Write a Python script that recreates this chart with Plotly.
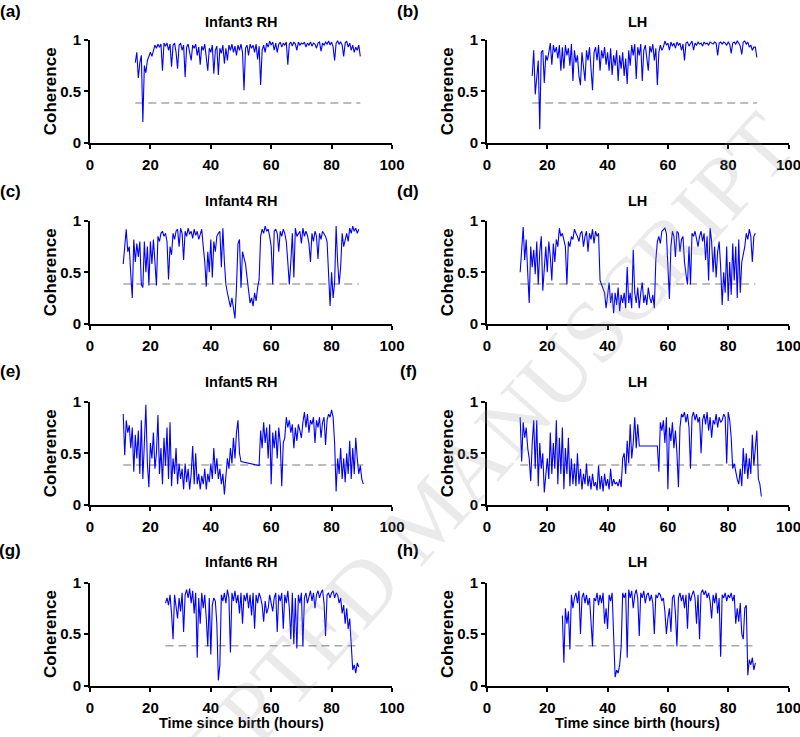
import numpy as np
import plotly.graph_objects as go

W, H = 800, 737
STEP = 0.5          # sampling interval of the coherence series (hours)
THRESHOLD = 0.385   # significance level (dashed line)

x_ticks = [0, 20, 40, 60, 80, 100]
y_ticks = [0, 0.5, 1]
y_tick_text = ["0", "0.5", "1"]

# ---------------- data ----------------
a_start = 15.0
a_vals = [0.78,0.88,0.63,0.78,0.85,0.2,0.75,0.68,0.8,0.85,
          0.88,0.84,0.9,0.95,0.92,0.96,0.93,0.96,0.7,0.97,
          0.94,0.97,0.9,0.96,0.74,0.95,0.97,0.88,0.72,0.95,
          0.97,0.9,0.95,0.64,0.93,0.96,0.88,0.8,0.95,0.92,
          0.96,0.85,0.93,0.76,0.94,0.9,0.96,0.85,0.7,0.92,
          0.88,0.95,0.67,0.9,0.94,0.66,0.92,0.87,0.95,0.77,
          0.92,0.8,0.95,0.9,0.96,0.88,0.94,0.85,0.95,0.9,
          0.96,0.88,0.51,0.92,0.95,0.85,0.96,0.92,0.95,0.88,
          0.96,0.81,0.94,0.56,0.9,0.95,0.88,0.97,0.93,0.99,
          0.95,0.98,0.9,0.97,0.88,0.96,0.98,0.93,0.97,0.95,
          0.98,0.76,0.96,0.98,0.94,0.98,0.96,0.9,0.98,0.95,
          0.97,0.96,0.98,0.93,0.97,0.95,0.98,0.94,0.97,0.96,
          0.92,0.97,0.98,0.89,0.97,0.95,0.98,0.96,0.99,0.95,
          0.98,0.93,0.8,0.97,0.99,0.96,0.98,0.95,0.84,0.97,
          0.99,0.93,0.97,0.9,0.95,0.88,0.93,0.9,0.95,0.84]

b_start = 15.0
b_vals = [0.65,0.9,0.47,0.62,0.8,0.13,0.88,0.9,0.58,0.85,
          0.8,0.88,0.97,0.76,0.95,0.88,0.93,0.82,0.95,0.7,
          0.93,0.72,0.95,0.85,0.92,0.75,0.96,0.6,0.9,0.78,
          0.85,0.65,0.56,0.88,0.7,0.6,0.9,0.8,0.93,0.75,
          0.51,0.88,0.93,0.8,0.95,0.7,0.9,0.82,0.93,0.76,
          0.88,0.7,0.92,0.66,0.85,0.75,0.9,0.6,0.85,0.72,
          0.88,0.65,0.82,0.57,0.9,0.75,0.95,0.85,0.96,0.62,
          0.93,0.85,0.96,0.6,0.9,0.95,0.82,0.7,0.94,0.88,
          0.96,0.8,0.92,0.56,0.88,0.95,0.9,0.93,0.99,0.95,
          0.97,0.9,0.98,0.94,0.97,0.92,0.98,0.95,0.97,0.9,
          0.96,0.8,0.97,0.98,0.94,0.97,0.99,0.9,0.97,0.95,
          0.98,0.96,0.97,0.94,0.98,0.96,0.97,0.95,0.98,0.97,
          0.96,0.98,0.97,0.85,0.97,0.98,0.96,0.98,0.97,0.95,
          0.98,0.96,0.87,0.97,0.98,0.96,0.99,0.97,0.94,0.86,
          0.98,0.99,0.96,0.98,0.93,0.95,0.9,0.93,0.93,0.83]

c_start = 11.0
c_vals = [0.58,0.8,0.92,0.7,0.75,0.48,0.25,0.82,0.6,0.78,
          0.65,0.8,0.38,0.35,0.8,0.5,0.75,0.37,0.8,0.58,
          0.82,0.6,0.37,0.85,0.8,0.88,0.9,0.85,0.88,0.8,
          0.43,0.75,0.67,0.88,0.82,0.9,0.92,0.75,0.93,0.88,
          0.62,0.9,0.85,0.93,0.87,0.9,0.83,0.92,0.86,0.9,
          0.82,0.87,0.92,0.75,0.6,0.36,0.7,0.5,0.82,0.45,
          0.8,0.7,0.85,0.88,0.9,0.55,0.93,0.6,0.38,0.3,
          0.22,0.16,0.25,0.15,0.05,0.35,0.78,0.82,0.35,0.7,
          0.65,0.58,0.45,0.3,0.2,0.25,0.17,0.3,0.22,0.35,
          0.43,0.85,0.92,0.88,0.95,0.9,0.92,0.85,0.75,0.38,
          0.9,0.92,0.88,0.7,0.9,0.85,0.92,0.88,0.8,0.6,
          0.38,0.6,0.88,0.45,0.93,0.85,0.88,0.9,0.78,0.93,
          0.85,0.9,0.86,0.78,0.6,0.88,0.8,0.9,0.85,0.63,
          0.88,0.82,0.9,0.88,0.85,0.8,0.45,0.17,0.5,0.25,
          0.4,0.95,0.6,0.38,0.55,0.88,0.75,0.82,0.88,0.8,
          0.93,0.88,0.95,0.9,0.93,0.88,0.92]

d_start = 11.0
d_vals = [0.5,0.78,0.94,0.62,0.82,0.5,0.2,0.75,0.55,0.72,
          0.48,0.8,0.38,0.7,0.85,0.32,0.6,0.75,0.5,0.8,
          0.65,0.42,0.78,0.6,0.82,0.75,0.93,0.85,0.88,0.8,
          0.75,0.38,0.8,0.75,0.85,0.82,0.92,0.88,0.85,0.8,
          0.88,0.9,0.75,0.85,0.9,0.7,0.88,0.82,0.92,0.78,
          0.9,0.85,0.88,0.42,0.38,0.35,0.3,0.15,0.25,0.4,
          0.2,0.3,0.1,0.3,0.18,0.35,0.12,0.28,0.2,0.3,
          0.15,0.55,0.2,0.3,0.15,0.72,0.3,0.2,0.35,0.15,
          0.3,0.4,0.2,0.28,0.18,0.35,0.25,0.2,0.28,0.15,
          0.62,0.8,0.85,0.78,0.9,0.92,0.93,0.88,0.6,0.24,
          0.75,0.9,0.85,0.65,0.9,0.88,0.7,0.82,0.85,0.6,
          0.48,0.38,0.75,0.38,0.88,0.85,0.9,0.82,0.75,0.85,
          0.9,0.8,0.88,0.62,0.85,0.42,0.93,0.8,0.5,0.75,
          0.45,0.7,0.8,0.55,0.18,0.5,0.3,0.75,0.22,0.6,
          0.28,0.78,0.42,0.75,0.25,0.82,0.3,0.6,0.68,0.75,
          0.88,0.82,0.92,0.85,0.6,0.85,0.88]

e1_start = 11.0
e1_vals = [0.88,0.48,0.82,0.7,0.77,0.55,0.75,0.32,0.68,0.45,
           0.72,0.3,0.82,0.25,0.6,0.97,0.4,0.17,0.6,0.45,
           0.7,0.35,0.5,0.87,0.3,0.55,0.2,0.65,0.38,0.75,
           0.25,0.8,0.18,0.45,0.3,0.55,0.2,0.4,0.25,0.35,
           0.15,0.4,0.22,0.35,0.15,0.3,0.57,0.2,0.5,0.2,
           0.3,0.15,0.28,0.2,0.35,0.15,0.3,0.22,0.4,0.25,
           0.55,0.3,0.45,0.25,0.35,0.2,0.3,0.1,0.28,0.45,
           0.35,0.55,0.4,0.65,0.45,0.7,0.82,0.5,0.42]
e2_start = 56.0
e2_vals = [0.38,0.72,0.55,0.8,0.6,0.75,0.45,0.78,0.2,0.7,
           0.55,0.72,0.45,0.75,0.6,0.18,0.6,0.65,0.85,0.75,
           0.82,0.7,0.78,0.55,0.75,0.62,0.78,0.72,0.65,0.8,
           0.9,0.75,0.88,0.7,0.82,0.78,0.85,0.6,0.82,0.75,
           0.85,0.65,0.8,0.85,0.58,0.82,0.88,0.85,0.92,0.85,
           0.6,0.13,0.45,0.3,0.55,0.25,0.45,0.22,0.5,0.3,
           0.62,0.25,0.55,0.3,0.65,0.45,0.3,0.38,0.25,0.2]

f1_start = 11.0
f1_vals = [0.85,0.42,0.8,0.65,0.75,0.55,0.45,0.23,0.6,0.82,
           0.35,0.82,0.18,0.6,0.35,0.5,0.12,0.3,0.45,0.25,
           0.7,0.3,0.6,0.35,0.82,0.2,0.65,0.3,0.75,0.15,
           0.55,0.3,0.65,0.18,0.45,0.2,0.4,0.18,0.5,0.2,
           0.35,0.15,0.3,0.2,0.4,0.18,0.28,0.15,0.3,0.18,
           0.22,0.14,0.38,0.15,0.28,0.13,0.3,0.18,0.25,0.15,
           0.35,0.18,0.25,0.2,0.22,0.18,0.25,0.17,0.45,0.5,
           0.3,0.62,0.4,0.78,0.45,0.6,0.85,0.55,0.78,0.57]
f2_start = 56.5
f2_vals = [0.57,0.32,0.8,0.72,0.82,0.6,0.85,0.15,0.75,0.62,
           0.8,0.55,0.72,0.5,0.17,0.75,0.88,0.85,0.9,0.8,
           0.88,0.75,0.35,0.85,0.9,0.82,0.88,0.8,0.85,0.5,
           0.82,0.88,0.78,0.9,0.72,0.85,0.65,0.82,0.78,0.88,
           0.75,0.85,0.8,0.82,0.88,0.85,0.4,0.9,0.82,0.65,
           0.35,0.4,0.3,0.25,0.2,0.35,0.18,0.55,0.3,0.5,
           0.25,0.45,0.3,0.68,0.38,0.6,0.72,0.25,0.2,0.08]

g_start = 25.0
g_vals = [0.8,0.85,0.78,0.88,0.7,0.45,0.88,0.75,0.65,0.85,
          0.72,0.9,0.52,0.88,0.93,0.85,0.94,0.8,0.92,0.7,
          0.9,0.27,0.85,0.6,0.9,0.75,0.88,0.65,0.38,0.85,
          0.3,0.78,0.85,0.82,0.6,0.05,0.2,0.88,0.82,0.9,
          0.8,0.93,0.85,0.32,0.9,0.82,0.92,0.8,0.88,0.7,
          0.9,0.6,0.88,0.82,0.9,0.75,0.88,0.68,0.9,0.55,
          0.88,0.8,0.9,0.85,0.78,0.62,0.82,0.7,0.75,0.88,
          0.8,0.72,0.85,0.9,0.52,0.88,0.82,0.9,0.55,0.88,
          0.8,0.92,0.75,0.45,0.9,0.4,0.85,0.36,0.88,0.8,
          0.9,0.38,0.85,0.9,0.8,0.88,0.92,0.82,0.9,0.75,
          0.88,0.92,0.85,0.9,0.93,0.8,0.48,0.88,0.9,0.85,
          0.9,0.92,0.85,0.9,0.88,0.8,0.85,0.7,0.78,0.6,
          0.75,0.55,0.65,0.4,0.15,0.2,0.12,0.22,0.18]

h_start = 25.0
h_vals = [0.68,0.22,0.75,0.6,0.72,0.35,0.88,0.75,0.85,0.9,
          0.8,0.92,0.5,0.85,0.9,0.8,0.88,0.78,0.85,0.65,
          0.38,0.85,0.82,0.9,0.78,0.88,0.8,0.9,0.6,0.75,
          0.55,0.88,0.82,0.9,0.38,0.08,0.15,0.12,0.2,0.38,
          0.9,0.85,0.9,0.27,0.93,0.85,0.92,0.75,0.88,0.93,
          0.85,0.48,0.9,0.85,0.92,0.8,0.88,0.9,0.82,0.88,
          0.8,0.5,0.88,0.85,0.9,0.88,0.82,0.85,0.72,0.5,
          0.65,0.75,0.52,0.85,0.88,0.7,0.38,0.85,0.9,0.82,
          0.88,0.75,0.88,0.55,0.9,0.82,0.88,0.92,0.85,0.6,
          0.88,0.45,0.9,0.93,0.88,0.92,0.85,0.9,0.82,0.65,
          0.88,0.8,0.9,0.7,0.85,0.28,0.88,0.85,0.9,0.82,
          0.88,0.85,0.9,0.82,0.88,0.6,0.75,0.62,0.8,0.5,
          0.45,0.75,0.78,0.1,0.25,0.2,0.27,0.15,0.22]

panel_titles = ["Infant3 RH", "LH", "Infant4 RH", "LH",
                "Infant5 RH", "LH", "Infant6 RH", "LH"]
panel_letters = ["(a)", "(b)", "(c)", "(d)", "(e)", "(f)", "(g)", "(h)"]
panel_segments = [
    [(a_start, a_vals)], [(b_start, b_vals)],
    [(c_start, c_vals)], [(d_start, d_vals)],
    [(e1_start, e1_vals), (e2_start, e2_vals)],
    [(f1_start, f1_vals), (f2_start, f2_vals)],
    [(g_start, g_vals)], [(h_start, h_vals)],
]
y_label = "Coherence"
x_label = "Time since birth (hours)"
watermark = "ACCEPTED MANUSCRIPT"

# ---------------- layout geometry (pixels) ----------------
col_px = [(90, 392), (487, 788.5)]
row_px = [(40, 142.5), (221, 323.5), (401.7, 504.8), (582.5, 685.5)]
title_y = [21.5, 200.8, 381.6, 562.4]
letter_y = [11, 191, 371.5, 550]
letter_x = [10, 408]

def px(x):
    return x / W

def py(y):
    return 1 - y / H

BOLD = "Liberation Sans, Arial, sans-serif"

fig = go.Figure()
layout = dict(width=W, height=H, margin=dict(l=0, r=0, t=0, b=0, autoexpand=False),
              paper_bgcolor="white", plot_bgcolor="white", showlegend=False)
annotations = []

for i, segs in enumerate(panel_segments):
    r, c = divmod(i, 2)
    n = i + 1
    xs, ys = [], []
    for start, vals in segs:
        xs.extend(list(start + STEP * np.arange(len(vals))))
        ys.extend(vals)
    xa = "x" if n == 1 else f"x{n}"
    ya = "y" if n == 1 else f"y{n}"
    # threshold dashed line spanning the recording
    fig.add_trace(go.Scatter(x=[xs[0], xs[-1]], y=[THRESHOLD, THRESHOLD],
                             mode="lines", xaxis=xa, yaxis=ya,
                             line=dict(color="#a6a6a6", width=1.5, dash="8px,5px"),
                             hoverinfo="skip"))
    fig.add_trace(go.Scatter(x=xs, y=ys, mode="lines", xaxis=xa, yaxis=ya,
                             line=dict(color="#0000ff", width=1.1)))
    x0, x1 = col_px[c]
    y0, y1 = row_px[r]
    axis_common = dict(showline=True, linecolor="black", linewidth=2,
                       ticks="outside", ticklen=4, tickwidth=1.5, tickcolor="black",
                       showgrid=False, zeroline=False, automargin=False,
                       ticklabeloverflow="allow",
                       tickfont=dict(family=BOLD, size=15, color="black", weight="bold"))
    layout["xaxis" if n == 1 else f"xaxis{n}"] = dict(
        domain=[px(x0), px(x1)], anchor=ya, range=[0, 100],
        tickvals=x_ticks, ticklabelstandoff=3, **axis_common)
    layout["yaxis" if n == 1 else f"yaxis{n}"] = dict(
        domain=[py(y1), py(y0)], anchor=xa, range=[0, 1],
        tickvals=y_ticks, ticktext=y_tick_text, **axis_common)
    # panel title
    annotations.append(dict(x=px((x0 + x1) / 2), y=py(title_y[r]), xref="paper", yref="paper",
                            text=panel_titles[i], showarrow=False, xanchor="center", yanchor="middle",
                            font=dict(family=BOLD, size=14.5, color="black", weight="bold")))
    # panel letter
    annotations.append(dict(x=px(letter_x[c]), y=py(letter_y[r]), xref="paper", yref="paper",
                            text=panel_letters[i], showarrow=False, xanchor="center", yanchor="middle",
                            font=dict(family=BOLD, size=17, color="black", weight="bold")))
    # y label
    annotations.append(dict(x=px(x0 - 40), y=py((y0 + y1) / 2), xref="paper", yref="paper",
                            text=y_label, showarrow=False, textangle=-90,
                            xanchor="center", yanchor="middle",
                            font=dict(family=BOLD, size=17, color="black", weight="bold")))
    if r == 3:
        annotations.append(dict(x=px((x0 + x1) / 2), y=py(722.5), xref="paper", yref="paper",
                                text=x_label, showarrow=False, xanchor="center", yanchor="middle",
                                font=dict(family=BOLD, size=14.5, color="black", weight="bold")))

# faint publisher watermark running diagonally across the page
annotations.append(dict(x=px(428), y=py(515), xref="paper", yref="paper",
                        text=watermark, showarrow=False, textangle=-48,
                        xanchor="center", yanchor="middle",
                        font=dict(family="Liberation Serif, serif", size=88,
                                  color="rgba(150,150,150,0.2)")))

layout["annotations"] = annotations
fig.update_layout(**layout)
# remove the browser's default 8px page margin so the figure fills the window exactly
fig.write_html("out.html",
               config={"displayModeBar": False},
               post_script="document.body.style.margin='0px';document.body.style.overflow='hidden';")
